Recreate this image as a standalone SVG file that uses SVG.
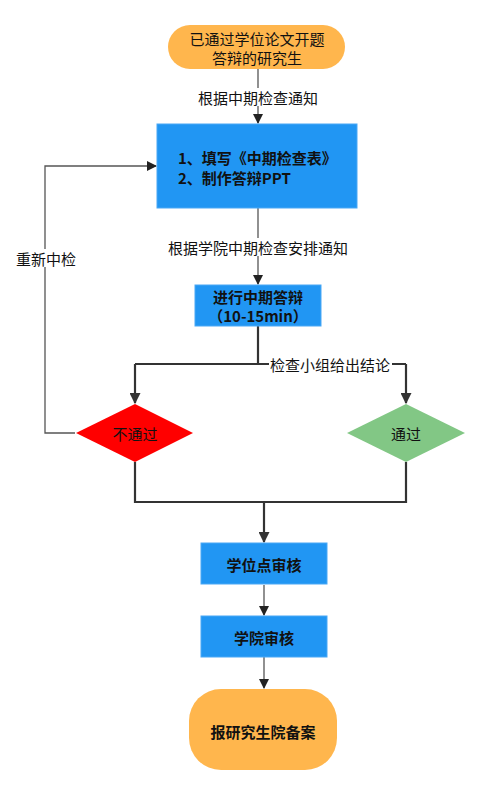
<svg xmlns="http://www.w3.org/2000/svg" width="491" height="795" viewBox="0 0 491 795">
<style>
text{font-family:"Noto Sans CJK SC","Liberation Sans",sans-serif;font-size:15px;fill:#111;text-anchor:middle;dominant-baseline:central}
.b{font-weight:bold}
.lbl{font-size:15px}
.thin{fill:none;stroke:#555;stroke-width:1.3}
.thick{fill:none;stroke:#333;stroke-width:2.2}
.blue{fill:#2196F3;stroke:#4aa8f5;stroke-width:1}
.orange{fill:#FFB64D}
</style>
<defs>
<marker id="a" viewBox="0 0 10 10" refX="9" refY="5" markerWidth="10" markerHeight="10" markerUnits="userSpaceOnUse" orient="auto"><path d="M0,0 L10,5 L0,10 z" fill="#222"/></marker>
<marker id="a2" viewBox="0 0 10 10" refX="9" refY="5" markerWidth="11" markerHeight="11" markerUnits="userSpaceOnUse" orient="auto"><path d="M0,0 L10,5 L0,10 z" fill="#333"/></marker>
</defs>
<g id="connectors">
<path class="thin" d="M258,69 V123" marker-end="url(#a)"/>
<rect x="194" y="88" width="128" height="18" fill="#fff"/>
<text x="258" y="97" class="lbl">根据中期检查通知</text>
<path class="thin" d="M258,208 V284" marker-end="url(#a)"/>
<rect x="165" y="238" width="186" height="18" fill="#fff"/>
<text x="258" y="247" class="lbl">根据学院中期检查安排通知</text>
<path class="thick" d="M258,326 V364 M135,364 H406"/>
<path class="thick" d="M135,364 V403" marker-end="url(#a2)"/>
<path class="thick" d="M406,364 V403" marker-end="url(#a2)"/>
<rect x="269" y="355" width="123" height="18" fill="#fff"/>
<text x="330" y="364" class="lbl">检查小组给出结论</text>
<path class="thin" d="M75,433 H45 V166 H156" marker-end="url(#a)"/>
<rect x="12" y="249" width="68" height="18" fill="#fff"/>
<text x="46" y="258" class="lbl">重新中检</text>
<path class="thick" d="M135,462 V502 H406 V462"/>
<path class="thick" d="M264,502 V542" marker-end="url(#a2)"/>
<path class="thin" d="M264,585 V615" marker-end="url(#a)"/>
<path class="thin" d="M264,657 V688" marker-end="url(#a)"/>
</g>
<g id="start">
<rect x="168" y="25" width="177" height="44" rx="22" class="orange"/>
<text x="257" y="38">已通过学位论文开题<tspan x="257" dy="19">答辩的研究生</tspan></text>
</g>
<g id="fill-form">
<rect x="157" y="124" width="200" height="84" class="blue"/>
<text x="178" y="157" class="b" style="text-anchor:start">1、填写《中期检查表》<tspan x="178" dy="20">2、制作答辩PPT</tspan></text>
</g>
<g id="defense">
<rect x="195" y="285" width="126" height="41" class="blue"/>
<text x="258" y="296" class="b">进行中期答辩<tspan x="258" dy="19">（10-15min）</tspan></text>
</g>
<g id="fail">
<polygon points="135,404 193,433 135,462 76,433" fill="#FF0000"/>
<text x="135" y="433">不通过</text>
</g>
<g id="pass">
<polygon points="406,404 465,433 406,462 347,433" fill="#82C785"/>
<text x="406" y="433">通过</text>
</g>
<g id="degree-review">
<rect x="201" y="543" width="126" height="41" class="blue"/>
<text x="264" y="564" class="b">学位点审核</text>
</g>
<g id="college-review">
<rect x="201" y="616" width="126" height="41" class="blue"/>
<text x="264" y="637" class="b">学院审核</text>
</g>
<g id="end">
<rect x="189" y="689" width="148" height="81" rx="32" class="orange"/>
<text x="263" y="731" class="b">报研究生院备案</text>
</g>
</svg>
